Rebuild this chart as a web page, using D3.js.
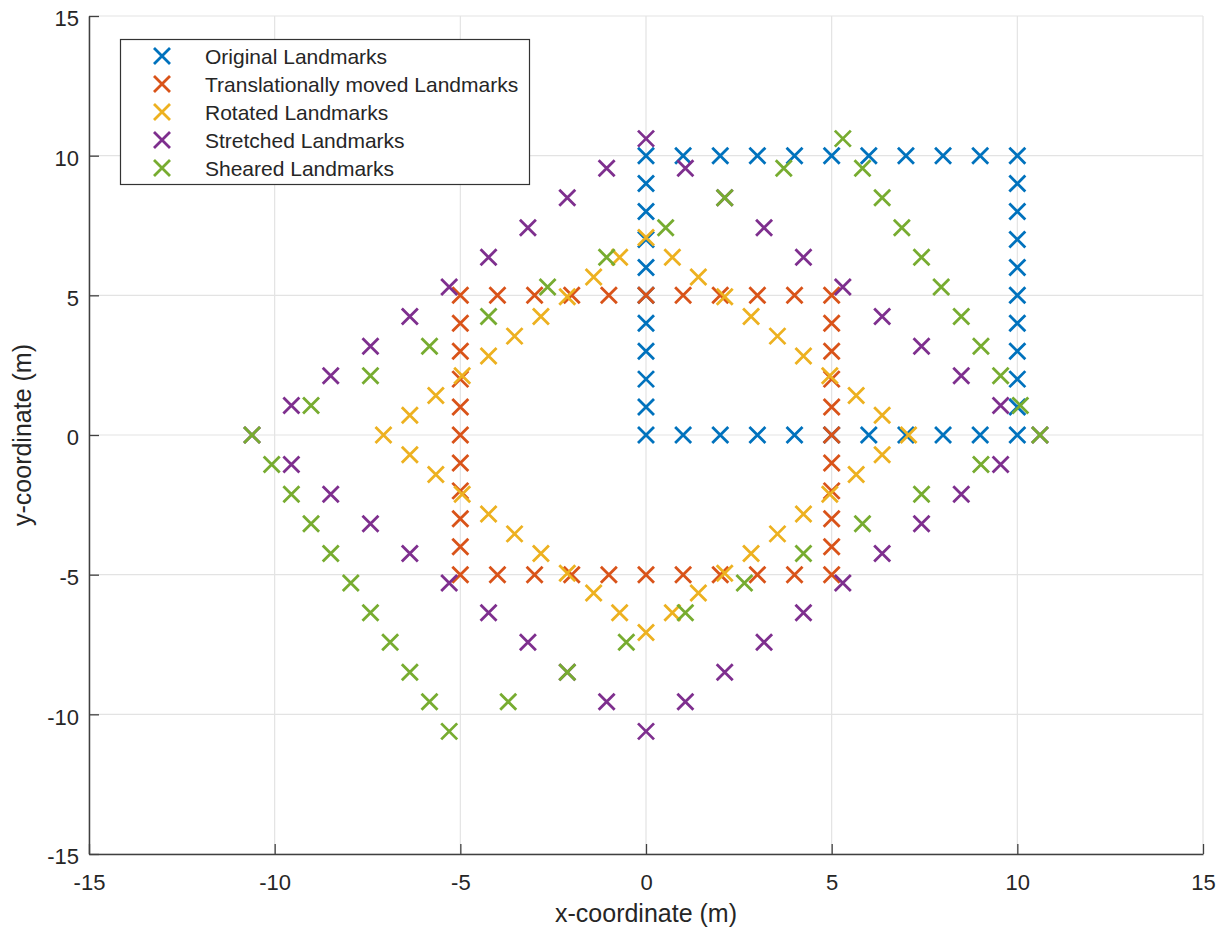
<!DOCTYPE html>
<html>
<head>
<meta charset="utf-8">
<script src="https://cdn.jsdelivr.net/npm/d3@7"></script>
<style>
  html, body { margin: 0; padding: 0; background: #fff; }
  svg { display: block; font-family: "Liberation Sans", Arial, Helvetica, sans-serif; }
</style>
</head>
<body>
<svg id="chart" width="1232" height="931"></svg>
<script>
// ---- Data ----
const seriesNames = [
  "Original Landmarks",
  "Translationally moved Landmarks",
  "Rotated Landmarks",
  "Stretched Landmarks",
  "Sheared Landmarks"
];
const seriesColors = ["#0072BD", "#D95319", "#EDB120", "#7E2F8E", "#77AC30"];
const xTicks = [-15, -10, -5, 0, 5, 10, 15];
const yTicks = [-15, -10, -5, 0, 5, 10, 15];

const originalLandmarks = [
  [0,0],[1,0],[2,0],[3,0],[4,0],[5,0],[6,0],[7,0],[8,0],[9,0],[10,0],
  [0,10],[1,10],[2,10],[3,10],[4,10],[5,10],[6,10],[7,10],[8,10],[9,10],[10,10],
  [0,1],[0,2],[0,3],[0,4],[0,5],[0,6],[0,7],[0,8],[0,9],
  [10,1],[10,2],[10,3],[10,4],[10,5],[10,6],[10,7],[10,8],[10,9]
];
const translatedLandmarks = [
  [-5,-5],[-4,-5],[-3,-5],[-2,-5],[-1,-5],[0,-5],[1,-5],[2,-5],[3,-5],[4,-5],[5,-5],
  [-5,5],[-4,5],[-3,5],[-2,5],[-1,5],[0,5],[1,5],[2,5],[3,5],[4,5],[5,5],
  [-5,-4],[-5,-3],[-5,-2],[-5,-1],[-5,0],[-5,1],[-5,2],[-5,3],[-5,4],
  [5,-4],[5,-3],[5,-2],[5,-1],[5,0],[5,1],[5,2],[5,3],[5,4]
];
const rotatedLandmarks = [
  [0,-7.07],[0.71,-6.36],[1.41,-5.66],[2.12,-4.95],[2.83,-4.24],[3.54,-3.54],
  [4.24,-2.83],[4.95,-2.12],[5.66,-1.41],[6.36,-0.71],[7.07,0],
  [-7.07,0],[-6.36,0.71],[-5.66,1.41],[-4.95,2.12],[-4.24,2.83],[-3.54,3.54],
  [-2.83,4.24],[-2.12,4.95],[-1.41,5.66],[-0.71,6.36],[0,7.07],
  [-0.71,-6.36],[-1.41,-5.66],[-2.12,-4.95],[-2.83,-4.24],[-3.54,-3.54],
  [-4.24,-2.83],[-4.95,-2.12],[-5.66,-1.41],[-6.36,-0.71],
  [6.36,0.71],[5.66,1.41],[4.95,2.12],[4.24,2.83],[3.54,3.54],
  [2.83,4.24],[2.12,4.95],[1.41,5.66],[0.71,6.36]
];
const stretchedLandmarks = [
  [0,-10.61],[1.06,-9.55],[2.12,-8.49],[3.18,-7.42],[4.24,-6.36],[5.30,-5.30],
  [6.36,-4.24],[7.42,-3.18],[8.49,-2.12],[9.55,-1.06],[10.61,0],
  [-10.61,0],[-9.55,1.06],[-8.49,2.12],[-7.42,3.18],[-6.36,4.24],[-5.30,5.30],
  [-4.24,6.36],[-3.18,7.42],[-2.12,8.49],[-1.06,9.55],[0,10.61],
  [-1.06,-9.55],[-2.12,-8.49],[-3.18,-7.42],[-4.24,-6.36],[-5.30,-5.30],
  [-6.36,-4.24],[-7.42,-3.18],[-8.49,-2.12],[-9.55,-1.06],
  [9.55,1.06],[8.49,2.12],[7.42,3.18],[6.36,4.24],[5.30,5.30],
  [4.24,6.36],[3.18,7.42],[2.12,8.49],[1.06,9.55]
];
const shearedLandmarks = [
  [-5.30,-10.61],[-3.71,-9.55],[-2.12,-8.49],[-0.53,-7.42],[1.06,-6.36],[2.65,-5.30],
  [4.24,-4.24],[5.83,-3.18],[7.42,-2.12],[9.02,-1.06],[10.61,0],
  [-10.61,0],[-9.02,1.06],[-7.42,2.12],[-5.83,3.18],[-4.24,4.24],[-2.65,5.30],
  [-1.06,6.36],[0.53,7.42],[2.12,8.49],[3.71,9.55],[5.30,10.61],
  [-5.83,-9.55],[-6.36,-8.49],[-6.89,-7.42],[-7.42,-6.36],[-7.95,-5.30],
  [-8.49,-4.24],[-9.02,-3.18],[-9.55,-2.12],[-10.08,-1.06],
  [10.08,1.06],[9.55,2.12],[9.02,3.18],[8.49,4.24],[7.95,5.30],
  [7.42,6.36],[6.89,7.42],[6.36,8.49],[5.83,9.55]
];
const allSeries = [originalLandmarks, translatedLandmarks, rotatedLandmarks, stretchedLandmarks, shearedLandmarks];

// ---- Layout ----
const svg = d3.select("#chart");
const plot = { left: 89, right: 1203, top: 16, bottom: 854 };
const x = d3.scaleLinear().domain([-15, 15]).range([plot.left, plot.right]);
const y = d3.scaleLinear().domain([-15, 15]).range([plot.bottom, plot.top]);
const axisColor = "#404040";
const textColor = "#262626";
const gridColor = "#e3e3e3";

// Grid
const grid = svg.append("g");
grid.selectAll("line.gx").data(xTicks).join("line")
  .attr("x1", d => x(d)).attr("x2", d => x(d))
  .attr("y1", plot.top).attr("y2", plot.bottom)
  .attr("stroke", gridColor).attr("stroke-width", 1.2);
grid.selectAll("line.gy").data(yTicks).join("line")
  .attr("y1", d => y(d)).attr("y2", d => y(d))
  .attr("x1", plot.left).attr("x2", plot.right)
  .attr("stroke", gridColor).attr("stroke-width", 1.2);

// Markers
const h = 8;
const xPath = `M${-h},${-h}L${h},${h}M${-h},${h}L${h},${-h}`;
allSeries.forEach((pts, i) => {
  svg.append("g").selectAll("path").data(pts).join("path")
    .attr("d", xPath)
    .attr("transform", d => `translate(${x(d[0])},${y(d[1])})`)
    .attr("fill", "none")
    .attr("stroke", seriesColors[i])
    .attr("stroke-width", 2.8);
});

// Axes
const fmt = d => String(d);   // plain hyphen-minus as in the reference
const xAxis = d3.axisBottom(x).tickValues(xTicks).tickSizeInner(-10).tickSizeOuter(0).tickPadding(20)
  .tickFormat(fmt);
const yAxis = d3.axisLeft(y).tickValues(yTicks).tickSizeInner(-10).tickSizeOuter(0).tickPadding(10)
  .tickFormat(fmt);

const gx = svg.append("g").attr("transform", `translate(0,${plot.bottom})`).call(xAxis);
const gy = svg.append("g").attr("transform", `translate(${plot.left},0)`).call(yAxis);
[gx, gy].forEach(g => {
  g.select(".domain").attr("stroke", axisColor).attr("stroke-width", 1.5);
  g.selectAll(".tick line").attr("stroke", axisColor).attr("stroke-width", 1.3);
  g.selectAll(".tick text").attr("fill", textColor)
    .style("font-size", "22px")
    .style("font-family", "'Liberation Sans', Arial, Helvetica, sans-serif");
});
gx.selectAll(".tick text").attr("dy", "0.71em");
gy.selectAll(".tick text").attr("dy", "0.45em");

// Axis labels
svg.append("text")
  .attr("x", x(0)).attr("y", 922)
  .attr("text-anchor", "middle")
  .attr("fill", textColor)
  .style("font-size", "25px")
  .text("x-coordinate (m)");
svg.append("text")
  .attr("transform", `translate(31,${y(0)}) rotate(-90)`)
  .attr("text-anchor", "middle")
  .attr("fill", textColor)
  .style("font-size", "25px")
  .text("y-coordinate (m)");

// Legend
const legend = svg.append("g");
legend.append("rect")
  .attr("x", 120.5).attr("y", 39.5).attr("width", 409).attr("height", 145)
  .attr("fill", "#fff").attr("stroke", "#333").attr("stroke-width", 1.2);
const rowY = i => 56 + i * 28;
seriesNames.forEach((name, i) => {
  legend.append("path")
    .attr("d", xPath)
    .attr("transform", `translate(162,${rowY(i)})`)
    .attr("fill", "none")
    .attr("stroke", seriesColors[i])
    .attr("stroke-width", 2.8);
  legend.append("text")
    .attr("x", 205).attr("y", rowY(i) + 7.5)
    .attr("fill", textColor)
    .style("font-size", "21px")
    .text(name);
});
</script>
</body>
</html>
